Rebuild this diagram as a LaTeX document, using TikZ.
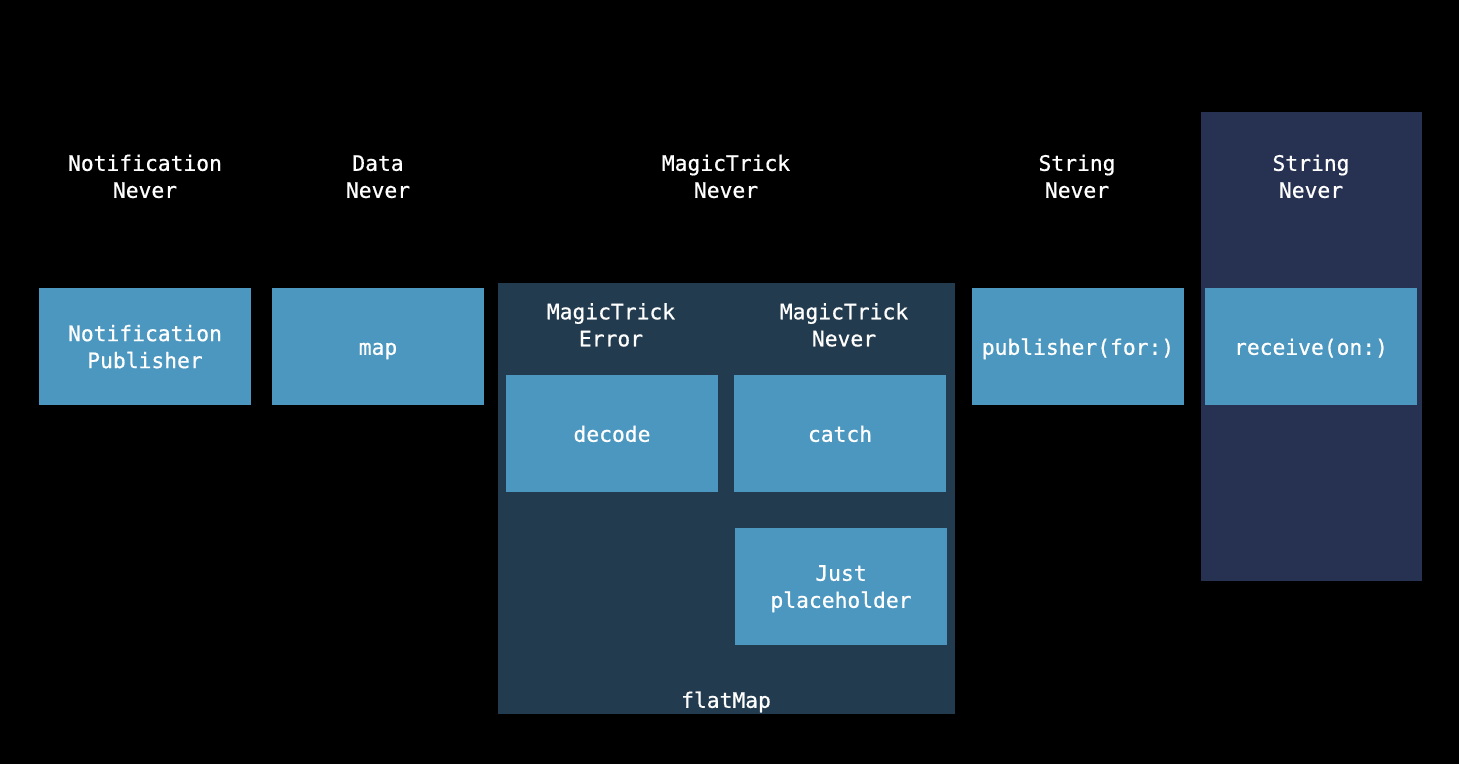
\documentclass[tikz,border=0pt]{standalone}
\usepackage{fontspec}
\newfontfamily\monof[FakeBold=0.7]{DejaVu Sans Mono}
\definecolor{boxblue}{HTML}{4C97BF}
\definecolor{flatbg}{HTML}{223B4E}
\definecolor{recvbg}{HTML}{273252}
\begin{document}
\begin{tikzpicture}[x=1pt,y=-1pt,
  lbl/.style={font=\monof\fontsize{21.3}{27}\selectfont, text=white, align=center, inner sep=0pt, text depth=0pt},
  pbox/.style={lbl, fill=boxblue, minimum width=212pt, minimum height=117pt},
  single/.style={text height=16.5pt},
  area/.style={inner sep=0pt}
]
\fill[black] (0,0) rectangle (1459,764);
\useasboundingbox (0,0) rectangle (1459,764);
% containers
\node[area, fill=flatbg, minimum width=457pt, minimum height=431pt] (fm) at (726.5,498.5) {};
\node[area, fill=recvbg, minimum width=221pt, minimum height=469pt] (rc) at (1311.5,346.5) {};
% header labels
\node[lbl, anchor=south] (h1) at (145,198) {Notification\\Never};
\node[lbl, anchor=south] (h2) at (378,198) {Data\\Never};
\node[lbl, anchor=south] (h3) at (726,198) {MagicTrick\\Never};
\node[lbl, anchor=south] (h4) at (1077,198) {String\\Never};
\node[lbl, anchor=south] (h5) at (1311,198) {String\\Never};
% inner headers
\node[lbl, anchor=south] (ih1) at (611,346.5) {MagicTrick\\Error};
\node[lbl, anchor=south] (ih2) at (844,346.5) {MagicTrick\\Never};
% boxes
\node[pbox] (np) at (145,346.5) {Notification\\Publisher};
\node[pbox, single] (map) at (378,346.5) {map};
\node[pbox, single] (dec) at (612,433.5) {decode};
\node[pbox, single] (cat) at (840,433.5) {catch};
\node[pbox] (just) at (841,586.5) {Just\\placeholder};
\node[pbox, single] (pub) at (1078,346.5) {publisher(for:)};
\node[pbox, single] (rcv) at (1311,346.5) {receive(on:)};
% flatMap label
\node[lbl, anchor=south] (fml) at (726,708) {flatMap};
\end{tikzpicture}
\end{document}
